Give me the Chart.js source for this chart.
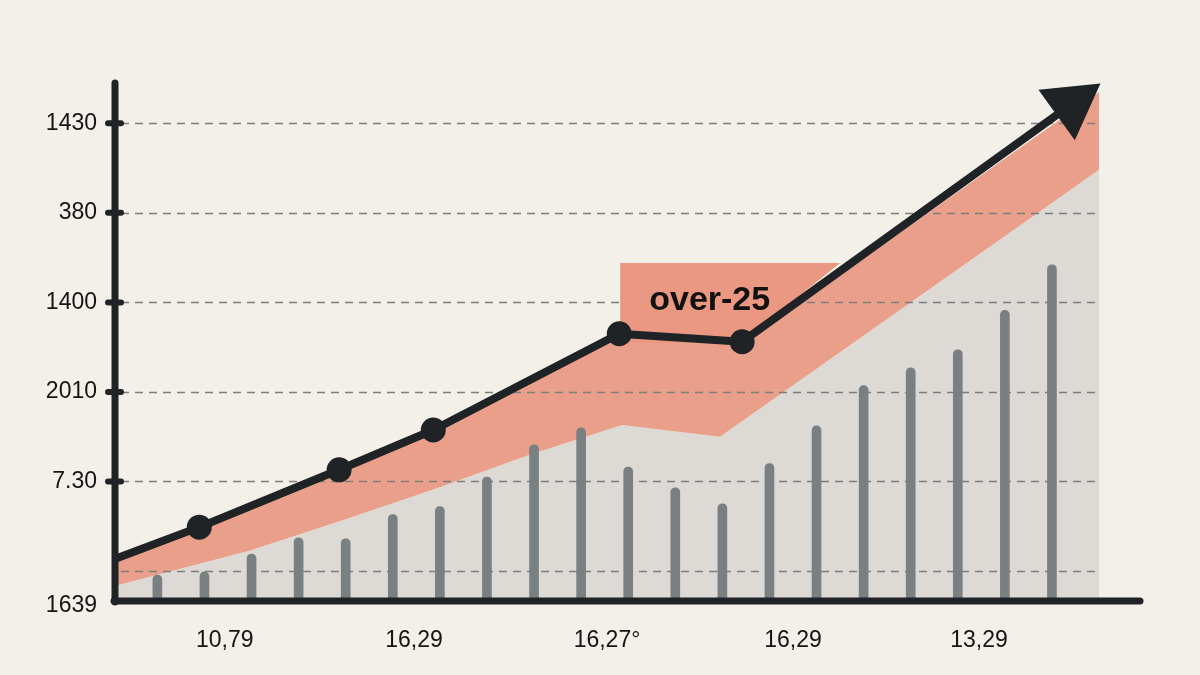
<!DOCTYPE html>
<html>
<head>
<meta charset="utf-8">
<script src="https://cdn.jsdelivr.net/npm/chart.js@4.4.1/dist/chart.umd.min.js"></script>
<style>
html,body{margin:0;padding:0;background:#f3efe9;}
#wrap{width:1200px;height:675px;position:relative;}
canvas{display:block;}
</style>
</head>
<body>
<div id="wrap"><canvas id="c" width="1200" height="675"></canvas></div>
<script>
// ---- data ----
const barX = [1,2,3,4,5,6,7,8,9,10,11,12,13,14,15,16,17,18,19,20];
const barTops = [-0.045,-0.01,0.19,0.37,0.36,0.63,0.72,1.05,1.41,1.60,1.16,0.93,0.75,1.20,1.62,2.07,2.27,2.47,2.91,3.42];
const yMin = -0.335;
const yMax = 5.45;
const xMin = 0.1;
const xMax = 21.87;
const gridEnd = 21.02;

const lineX = [0.15,1.89,4.86,6.86,10.81,13.42,20.41];
const lineY = [0.145,0.49,1.13,1.575,2.65,2.56,5.21];

const upperX = [0.15,1.89,4.86,6.86,10.81,13.42,21.0];
const upperY = [0.10,0.46,1.09,1.54,2.61,2.53,5.35];

const lowerX = [0.15,2.97,4.95,6.86,8.92,10.87,12.95,21.0];
const lowerY = [-0.16,0.23,0.57,0.91,1.30,1.63,1.50,4.48];

const yTickValues = [-0.39,0,1,2,3,4,5];
const yTickLabels = ['1639','','7.30','2010','1400','380','1430'];
const xTickValues = [2.43,6.45,10.55,14.5,18.45];
const xTickLabels = ['10,79','16,29','16,27°','16,29','13,29'];

const calloutText = 'over-25';
const calloutBox = {x0:10.83, x1:15.5, yTop:3.44, yBottom:2.55};

// ---- helpers ----
const pts = (xs, ys) => xs.map((x,i)=>({x:x, y:ys[i]}));
const DARK = '#1f2326';
const n = lineX.length;
const ptRadius = lineX.map((_,i)=> i===0 ? 0 : (i===n-1 ? 34 : 11.5));
const ptStyle = lineX.map((_,i)=> i===n-1 ? 'triangle' : 'circle');
const ptRot = lineX.map((_,i)=> i===n-1 ? 54.3 : 0);

const decor = {
  id:'decor',
  afterDatasetDraw(chart, args){
    if (args.index !== 1) return;
    const {ctx, chartArea} = chart;
    const xs = chart.scales.x, ys = chart.scales.y;
    ctx.save();
    ctx.strokeStyle = '#7d7d7d';
    ctx.lineWidth = 1.4;
    ctx.setLineDash([8,6]);
    const xEnd = xs.getPixelForValue(gridEnd);
    yTickValues.forEach(v=>{
      if (v < 0) return;
      const py = Math.round(ys.getPixelForValue(v)) + 0.5;
      ctx.beginPath();
      ctx.moveTo(chartArea.left + 6, py);
      ctx.lineTo(xEnd, py);
      ctx.stroke();
    });
    ctx.setLineDash([]);
    // callout box, clipped on the right by the trend line
    const bx0 = xs.getPixelForValue(calloutBox.x0);
    const by0 = ys.getPixelForValue(calloutBox.yTop);
    const by1 = ys.getPixelForValue(calloutBox.yBottom);
    const p5x = xs.getPixelForValue(lineX[n-2]), p5y = ys.getPixelForValue(lineY[n-2]);
    const p6x = xs.getPixelForValue(lineX[n-1]), p6y = ys.getPixelForValue(lineY[n-1]);
    const ix = Math.min(xs.getPixelForValue(calloutBox.x1), p5x + (by0 - p5y) * (p6x - p5x) / (p6y - p5y));
    ctx.fillStyle = '#eb9882';
    ctx.beginPath();
    ctx.moveTo(bx0, by0);
    ctx.lineTo(ix, by0);
    ctx.lineTo(p5x, p5y);
    ctx.lineTo(p5x, by1);
    ctx.lineTo(bx0, by1);
    ctx.closePath();
    ctx.fill();
    ctx.fillStyle = '#111';
    ctx.font = 'bold 34px "Liberation Sans", Arial, sans-serif';
    ctx.textBaseline = 'alphabetic';
    ctx.textAlign = 'left';
    ctx.fillText(calloutText, bx0 + 29, by0 + 47);
    ctx.restore();
  },
  afterDatasetsDraw(chart){
    const {ctx, chartArea} = chart;
    const ys = chart.scales.y;
    ctx.save();
    ctx.strokeStyle = DARK;
    ctx.lineCap = 'round';
    ctx.lineWidth = 7;
    ctx.beginPath();
    ctx.moveTo(chartArea.left, chartArea.top);
    ctx.lineTo(chartArea.left, chartArea.bottom + 1);
    ctx.stroke();
    ctx.beginPath();
    ctx.moveTo(chartArea.left - 1, chartArea.bottom);
    ctx.lineTo(chartArea.right, chartArea.bottom);
    ctx.stroke();
    ctx.lineWidth = 6;
    yTickValues.forEach(v=>{
      if (v <= 0) return;
      const py = ys.getPixelForValue(v);
      ctx.beginPath();
      ctx.moveTo(chartArea.left - 7, py);
      ctx.lineTo(chartArea.left + 6, py);
      ctx.stroke();
    });
    ctx.restore();
  }
};

new Chart(document.getElementById('c'), {
  data: {
    datasets: [
      {
        type:'line', label:'base', data: pts(lowerX, lowerY),
        borderWidth:0, pointRadius:0, fill:'start',
        backgroundColor:'#dddad5', order:4, tension:0
      },
      {
        type:'line', label:'band', data: pts(upperX, upperY),
        borderWidth:0, pointRadius:0, fill:'-1',
        backgroundColor:'#e99f89', order:3, tension:0
      },
      {
        type:'bar', label:'bars',
        data: barX.map((x,i)=>({x:x, y:[yMin, barTops[i]]})),
        backgroundColor:'#7a7f81', barThickness:9,
        borderRadius:{topLeft:5, topRight:5, bottomLeft:0, bottomRight:0},
        borderSkipped:false, order:2
      },
      {
        type:'line', label:'trend', data: pts(lineX, lineY),
        borderColor:DARK, borderWidth:8, borderCapStyle:'round', borderJoinStyle:'round',
        pointRadius: ptRadius, pointStyle: ptStyle, pointRotation: ptRot,
        pointBackgroundColor: DARK, pointBorderColor: DARK, pointBorderWidth: 2,
        fill:false, order:1, tension:0, clip:false
      }
    ]
  },
  options: {
    responsive:false,
    devicePixelRatio:1,
    animation:false,
    events:[],
    layout:{ padding:{ top:83, right:60, left:0, bottom:0 } },
    plugins:{ legend:{display:false}, tooltip:{enabled:false} },
    scales:{
      x:{
        type:'linear', min:xMin, max:xMax, offset:false,
        grid:{display:false, offset:false}, border:{display:false},
        afterBuildTicks: s => { s.ticks = xTickValues.map(v=>({value:v})); },
        afterFit: s => { s.height = 74; },
        ticks:{
          autoSkip:false, maxRotation:0, padding:18, color:'#141414',
          font:{family:'"Liberation Sans", Arial, sans-serif', size:23},
          callback: (v, i) => xTickLabels[i]
        }
      },
      y:{
        type:'linear', min:yMin, max:yMax,
        grid:{display:false}, border:{display:false},
        afterBuildTicks: s => { s.ticks = yTickValues.map(v=>({value:v})); },
        afterFit: s => { s.width = 115; },
        ticks:{
          autoSkip:false, padding:10, color:'#141414',
          font:{family:'"Liberation Sans", Arial, sans-serif', size:23},
          callback: (v, i) => yTickLabels[i]
        }
      }
    }
  },
  plugins:[decor]
});
</script>
</body>
</html>
